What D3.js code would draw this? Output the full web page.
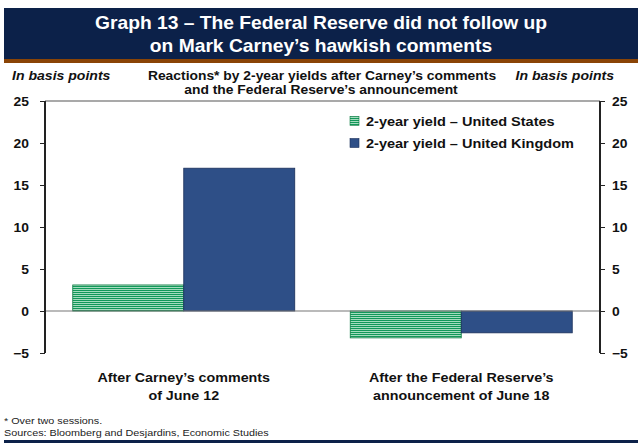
<!DOCTYPE html>
<html lang="en">
<head>
<meta charset="UTF-8" />
<title>Graph 13</title>
<script src="https://d3js.org/d3.v7.min.js"></script>
<style>
  body { margin: 0; background: #fff; }
  text { font-family: Arial, "Liberation Sans", sans-serif; }
</style>
</head>
<body>
<div id="viz"></div>
<script>
// data
const categories = ["After Carney’s comments|of June 12", "After the Federal Reserve’s|announcement of June 18"];
const seriesNames = ["2-year yield – United States", "2-year yield – United Kingdom"];
const usValues = [3.1, -3.2];
const ukValues = [17, -2.6];
const yTicks = [-5, 0, 5, 10, 15, 20, 25];

const W = 642, H = 445;
const margin = { top: 101, right: 42, bottom: 92, left: 45 };
const SX = 1.1; // the original text is a bit wide

const svg = d3.select("#viz").append("svg")
  .attr("width", W).attr("height", H);

// helper for stretched text
function label(x, y, txt, size, opts) {
  opts = opts || {};
  return svg.append("text")
    .attr("transform", `translate(${x},${y}) scale(${SX},1)`)
    .attr("text-anchor", opts.anchor || "start")
    .attr("font-size", size)
    .attr("font-weight", opts.weight || "bold")
    .attr("font-style", opts.style || "normal")
    .attr("fill", opts.fill || "#111")
    .text(txt);
}

// pattern for US bars
const defs = svg.append("defs");
const pat = defs.append("pattern")
  .attr("id", "stripes").attr("patternUnits", "userSpaceOnUse")
  .attr("width", 4).attr("height", 2);
pat.append("rect").attr("width", 4).attr("height", 2).attr("fill", "#c9eed7");
pat.append("rect").attr("width", 4).attr("height", 1.2).attr("fill", "#12985a");

// title banner
svg.append("rect").attr("x", 4).attr("y", 8).attr("width", 634).attr("height", 52).attr("fill", "#0c2149");
svg.append("rect").attr("x", 4).attr("y", 59).attr("width", 634).attr("height", 4).attr("fill", "#8a4406");
label(321, 29, "Graph 13 – The Federal Reserve did not follow up", 17.5, { anchor: "middle", fill: "#fff" });
label(321, 52, "on Mark Carney’s hawkish comments", 17.5, { anchor: "middle", fill: "#fff" });

// unit labels and subtitle
label(12, 80, "In basis points", 12.8, { style: "italic" });
label(614, 80, "In basis points", 12.8, { style: "italic", anchor: "end" });
label(322, 80, "Reactions* by 2-year yields after Carney’s comments", 12.6, { anchor: "middle" });
label(321, 94, "and the Federal Reserve’s announcement", 12.6, { anchor: "middle" });

const x0 = margin.left, x1 = W - margin.right;
const y = d3.scaleLinear().domain([-5, 25]).range([H - margin.bottom, margin.top]);
const xBand = d3.scaleBand().domain(categories).range([x0, x1]).paddingInner(0.2).paddingOuter(0.1);
const xSub = d3.scaleBand().domain(["us", "uk"]).range([0, xBand.bandwidth()]);

// top border
svg.append("line").attr("x1", x0).attr("x2", x1).attr("y1", y(25)).attr("y2", y(25))
  .attr("stroke", "#8c8c8c").attr("stroke-width", 1.5);

// bars
const rows = categories.map((c, i) => ({ cat: c, us: usValues[i], uk: ukValues[i] }));
const g = svg.append("g");
rows.forEach(r => {
  const bx = xBand(r.cat);
  g.append("rect")
    .attr("x", bx + xSub("us")).attr("width", xSub.bandwidth())
    .attr("y", y(Math.max(0, r.us))).attr("height", Math.abs(y(r.us) - y(0)))
    .attr("fill", "url(#stripes)").attr("stroke", "#0a7a40").attr("stroke-width", 0.8);
  g.append("rect")
    .attr("x", bx + xSub("uk")).attr("width", xSub.bandwidth())
    .attr("y", y(Math.max(0, r.uk))).attr("height", Math.abs(y(r.uk) - y(0)))
    .attr("fill", "#2e4f87").attr("stroke", "#1a2f5a").attr("stroke-width", 0.8);
});

// zero line
svg.append("line").attr("x1", x0).attr("x2", x1).attr("y1", y(0)).attr("y2", y(0))
  .attr("stroke", "#777").attr("stroke-width", 1.2);

// axes
const left = svg.append("g").attr("transform", `translate(${x0},0)`)
  .call(d3.axisLeft(y).tickValues(yTicks).tickSize(5));
const right = svg.append("g").attr("transform", `translate(${x1},0)`)
  .call(d3.axisRight(y).tickValues(yTicks).tickSize(5));
[left, right].forEach(a => {
  a.select(".domain").attr("stroke", "#222").attr("stroke-width", 2)
    .attr("d", `M0,${y(25)}V${y(-5)}`);
  a.selectAll(".tick line").attr("stroke", "#222").attr("stroke-width", 1);
  a.selectAll(".tick text").attr("font-size", 12.6).attr("font-weight", "bold")
    .attr("fill", "#111").attr("font-family", "Arial, 'Liberation Sans', sans-serif")
    .attr("transform", `scale(${SX},1)`);
});
left.selectAll(".tick text").attr("x", -16 / SX);
right.selectAll(".tick text").attr("x", 12 / SX);

// category labels
categories.forEach(c => {
  const cx = xBand(c) + xBand.bandwidth() / 2;
  c.split("|").forEach((line, i) => {
    label(cx, 382 + i * 18, line, 13, { anchor: "middle" });
  });
});

// legend
const legend = svg.append("g").attr("transform", "translate(350,0)");
seriesNames.forEach((s, i) => {
  const ly = 121 + i * 22;
  legend.append("rect").attr("x", 0).attr("y", ly - 4.5).attr("width", 9).attr("height", 9)
    .attr("fill", i === 0 ? "url(#stripes)" : "#2e4f87")
    .attr("stroke", i === 0 ? "#0a7a40" : "#1a2f5a").attr("stroke-width", 0.6);
  label(366, ly + 5, s, 13.2, {});
});

// footnotes
label(4, 424, "* Over two sessions.", 9.8, { weight: "normal", fill: "#222" });
label(4, 436, "Sources: Bloomberg and Desjardins, Economic Studies", 9.8, { weight: "normal", fill: "#222" });
svg.append("rect").attr("x", 4).attr("y", 440).attr("width", 634).attr("height", 3).attr("fill", "#0c2149");
</script>
</body>
</html>
